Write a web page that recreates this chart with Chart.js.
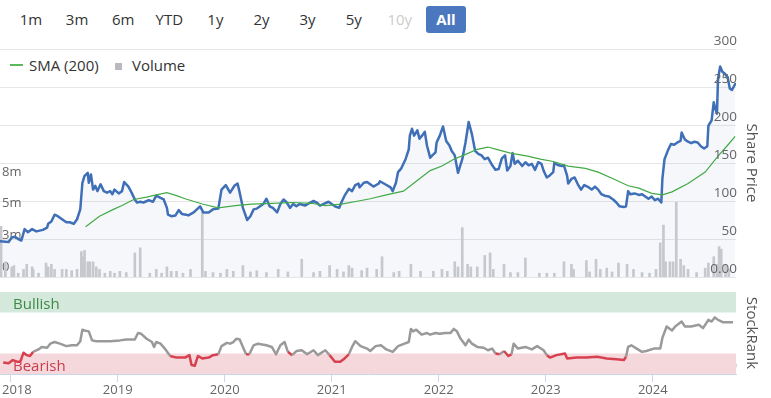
<!DOCTYPE html>
<html>
<head>
<meta charset="utf-8">
<script src="https://cdn.jsdelivr.net/npm/chart.js@4.4.1/dist/chart.umd.min.js"></script>
<style>
  body { margin: 0; width: 771px; height: 398px; background: #fff; position: relative; overflow: hidden;
         font-family: "Open Sans", sans-serif; }
  .btn { position: absolute; top: 6px; width: 40px; height: 27px; line-height: 27px; text-align: center;
         font-size: 15px; color: #333; border-radius: 3px; }
  .btn.off { color: #ccc; }
  .btn.on { background: #4a77bd; color: #fff; font-weight: bold; }
  .leg { position: absolute; top: 55px; height: 20px; line-height: 20px; font-size: 15px; color: #333; }
  canvas { position: absolute; left: 0; }
</style>
</head>
<body>
<div id="ranges"></div>
<div style="position:absolute;left:10px;top:64px;width:13px;height:2px;background:#5cb85c"></div>
<div class="leg" style="left:29px">SMA (200)</div>
<div style="position:absolute;left:115px;top:63px;width:7px;height:7px;background:#b9bac0"></div>
<div class="leg" style="left:132px">Volume</div>
<canvas id="main" width="771" height="280" style="top:0"></canvas>
<canvas id="rank" width="771" height="118" style="top:280px"></canvas>
<script>
const rangeLabels = ['1m', '3m', '6m', 'YTD', '1y', '2y', '3y', '5y', '10y', 'All'];
const yearTicks = [2018, 2019, 2020, 2021, 2022, 2023, 2024];
const xMin = 2017.9, xMax = 2024.778;

const priceDates = [2017.90,2017.98,2018.01,2018.04,2018.07,2018.10,2018.13,2018.16,2018.20,2018.24,2018.30,2018.34,2018.35,2018.38,2018.41,2018.44,2018.49,2018.52,2018.55,2018.59,2018.62,2018.65,2018.67,2018.69,2018.72,2018.73,2018.75,2018.77,2018.79,2018.81,2018.84,2018.87,2018.90,2018.93,2018.95,2018.97,2019.01,2019.04,2019.06,2019.10,2019.13,2019.16,2019.18,2019.21,2019.24,2019.29,2019.33,2019.36,2019.40,2019.43,2019.46,2019.47,2019.50,2019.54,2019.57,2019.60,2019.64,2019.66,2019.71,2019.77,2019.80,2019.85,2019.89,2019.94,2019.97,2020.01,2020.05,2020.09,2020.12,2020.14,2020.17,2020.21,2020.24,2020.27,2020.30,2020.33,2020.36,2020.39,2020.42,2020.45,2020.49,2020.52,2020.55,2020.58,2020.61,2020.64,2020.67,2020.70,2020.75,2020.80,2020.83,2020.86,2020.89,2020.92,2020.97,2021.00,2021.03,2021.07,2021.09,2021.12,2021.16,2021.19,2021.22,2021.25,2021.26,2021.30,2021.33,2021.36,2021.39,2021.44,2021.45,2021.50,2021.55,2021.57,2021.60,2021.62,2021.65,2021.69,2021.72,2021.73,2021.75,2021.77,2021.80,2021.82,2021.85,2021.87,2021.89,2021.92,2021.94,2021.97,2021.98,2022.01,2022.04,2022.07,2022.10,2022.12,2022.15,2022.18,2022.22,2022.25,2022.28,2022.31,2022.34,2022.37,2022.40,2022.43,2022.46,2022.50,2022.53,2022.56,2022.59,2022.62,2022.64,2022.67,2022.69,2022.71,2022.74,2022.78,2022.81,2022.84,2022.87,2022.90,2022.93,2022.96,2022.98,2023.01,2023.04,2023.07,2023.08,2023.12,2023.15,2023.17,2023.20,2023.21,2023.24,2023.27,2023.30,2023.33,2023.36,2023.39,2023.43,2023.46,2023.49,2023.52,2023.55,2023.59,2023.63,2023.66,2023.69,2023.73,2023.75,2023.77,2023.79,2023.83,2023.87,2023.90,2023.93,2023.96,2023.99,2024.02,2024.05,2024.08,2024.09,2024.11,2024.14,2024.17,2024.20,2024.23,2024.26,2024.27,2024.30,2024.33,2024.36,2024.39,2024.42,2024.45,2024.48,2024.51,2024.52,2024.55,2024.57,2024.58,2024.60,2024.61,2024.63,2024.65,2024.67,2024.70,2024.72,2024.74,2024.77];
const priceValues = [47,46,52,53,50,48,63,59,63,60,62,65,70,73,82,80,75,72,72,70,76,89,124,133,137,124,135,115,120,113,122,113,111,113,109,115,110,113,125,119,111,102,98,99,98,101,99,107,104,102,91,82,80,81,88,83,82,81,85,93,85,85,89,90,115,121,111,120,123,111,91,75,80,89,90,93,96,103,93,91,85,96,102,98,91,96,93,96,94,98,100,98,94,96,99,96,93,91,98,107,116,113,121,123,118,124,125,122,119,123,126,122,118,113,124,138,143,155,168,186,195,186,193,182,187,191,173,157,160,164,177,186,198,179,173,166,160,137,155,177,204,188,166,162,160,155,157,147,141,142,156,160,140,146,163,149,153,146,151,147,149,141,151,149,140,131,134,138,150,147,146,147,133,123,129,131,122,115,121,119,115,119,115,109,107,106,102,98,93,92,93,113,109,110,108,109,106,103,106,101,103,98,129,155,166,175,174,177,179,190,181,178,176,178,177,172,169,172,199,206,230,224,215,261,277,270,268,263,248,246,254];

const smaDates = [2018.70,2018.83,2018.96,2019.04,2019.15,2019.27,2019.36,2019.46,2019.55,2019.63,2019.79,2019.94,2020.10,2020.25,2020.44,2020.63,2020.81,2020.94,2021.09,2021.25,2021.36,2021.51,2021.67,2021.79,2021.92,2022.03,2022.14,2022.23,2022.36,2022.46,2022.54,2022.67,2022.83,2022.95,2023.07,2023.21,2023.37,2023.49,2023.65,2023.77,2023.87,2023.99,2024.09,2024.18,2024.33,2024.49,2024.61,2024.71,2024.77];
const smaValues = [66,80,89,94,102,105,108,111,107,103,96,91,94,96,97,98,97,94,96,100,103,108,113,126,140,146,155,160,168,171,168,163,159,155,152,146,143,138,128,120,117,110,108,112,123,138,159,175,185];

// volume in millions
const volumeDates = [2017.91,2017.95,2018.01,2018.03,2018.07,2018.12,2018.15,2018.20,2018.21,2018.26,2018.33,2018.35,2018.38,2018.41,2018.48,2018.52,2018.57,2018.62,2018.66,2018.68,2018.69,2018.72,2018.74,2018.77,2018.80,2018.83,2018.88,2018.93,2018.97,2019.02,2019.08,2019.16,2019.21,2019.30,2019.36,2019.41,2019.46,2019.50,2019.55,2019.61,2019.68,2019.79,2019.82,2019.89,2019.96,2020.02,2020.08,2020.17,2020.24,2020.30,2020.39,2020.50,2020.59,2020.72,2020.83,2020.89,2020.98,2021.05,2021.11,2021.16,2021.19,2021.28,2021.33,2021.42,2021.47,2021.58,2021.63,2021.74,2021.83,2021.95,2022.03,2022.08,2022.15,2022.18,2022.22,2022.27,2022.30,2022.36,2022.43,2022.48,2022.51,2022.61,2022.67,2022.74,2022.81,2022.94,2023.01,2023.08,2023.17,2023.24,2023.26,2023.38,2023.41,2023.47,2023.51,2023.57,2023.62,2023.68,2023.76,2023.82,2023.90,2023.97,2024.03,2024.07,2024.10,2024.12,2024.16,2024.19,2024.22,2024.26,2024.29,2024.33,2024.41,2024.49,2024.52,2024.57,2024.60,2024.62,2024.64,2024.68,2024.71];
const volumeValues = [4.0,1.2,0.8,0.9,0.3,0.6,1.0,0.8,0.6,0.3,1.1,0.8,1.0,0.6,0.6,0.6,0.5,0.6,2.0,1.6,2.1,1.2,1.2,1.2,0.8,0.6,0.3,0.45,0.3,0.45,0.35,1.9,2.3,0.3,0.6,0.3,0.8,0.45,0.45,0.3,0.6,5.1,0.45,0.35,0.3,0.6,0.45,0.9,0.4,0.5,0.35,0.6,0.4,1.4,0.35,0.45,0.9,0.6,0.4,0.9,0.7,0.5,0.7,0.6,1.6,0.35,0.45,1.0,0.45,0.45,0.6,0.45,1.2,0.8,3.9,1.0,0.8,0.8,1.7,1.9,0.6,1.0,0.35,0.35,1.5,0.3,0.3,0.3,1.2,1.0,0.6,1.3,0.4,1.4,0.6,0.7,0.4,1.1,1.0,0.6,0.35,0.3,0.6,2.7,4.1,1.2,1.2,1.2,5.9,1.4,0.9,0.6,0.35,0.7,1.1,1.6,1.0,2.4,2.2,1.0,0.6];

const rankDates = [2017.93,2017.98,2018.02,2018.06,2018.09,2018.12,2018.15,2018.18,2018.21,2018.26,2018.29,2018.34,2018.37,2018.41,2018.46,2018.52,2018.57,2018.62,2018.65,2018.67,2018.69,2018.73,2018.76,2018.80,2018.93,2019.02,2019.08,2019.16,2019.19,2019.22,2019.27,2019.32,2019.34,2019.36,2019.40,2019.44,2019.49,2019.55,2019.63,2019.67,2019.69,2019.72,2019.75,2019.79,2019.85,2019.89,2019.94,2019.97,2020.02,2020.05,2020.08,2020.11,2020.14,2020.17,2020.20,2020.23,2020.27,2020.31,2020.39,2020.44,2020.48,2020.52,2020.56,2020.59,2020.63,2020.67,2020.72,2020.77,2020.83,2020.87,2020.94,2020.98,2021.03,2021.08,2021.12,2021.16,2021.19,2021.22,2021.27,2021.33,2021.36,2021.41,2021.46,2021.51,2021.57,2021.62,2021.68,2021.72,2021.74,2021.76,2021.79,2021.84,2021.89,2021.92,2021.97,2022.01,2022.06,2022.11,2022.14,2022.17,2022.20,2022.25,2022.28,2022.31,2022.36,2022.42,2022.46,2022.50,2022.53,2022.57,2022.61,2022.65,2022.68,2022.70,2022.74,2022.81,2022.87,2022.92,2022.98,2023.01,2023.04,2023.10,2023.18,2023.20,2023.29,2023.38,2023.48,2023.57,2023.66,2023.73,2023.75,2023.77,2023.80,2023.85,2023.90,2023.94,2024.01,2024.07,2024.09,2024.13,2024.18,2024.21,2024.27,2024.30,2024.36,2024.43,2024.47,2024.52,2024.55,2024.58,2024.61,2024.66,2024.71,2024.75];
const rankValues = [14,13,17,15,15,26,23,22,27,30,33,32,37,39,37,34,35,35,40,54,53,52,41,40,40,41,42,42,50,49,43,39,33,39,37,31,22,20,20,23,11,10,22,19,20,23,24,34,38,37,39,43,42,33,24,24,35,37,35,33,24,35,39,27,23,28,29,24,29,23,29,23,15,15,19,24,33,40,34,31,28,34,35,30,27,34,37,39,55,52,54,48,50,48,50,49,50,50,55,52,44,35,42,37,33,32,29,31,25,24,28,22,24,37,31,33,30,34,29,23,20,23,25,19,20,20,21,19,18,17,21,33,35,31,27,28,31,31,44,58,53,58,64,58,58,60,56,66,64,69,66,63,63,63];

const bullishBand = [75, 100];
const bearishBand = [0, 25];

Chart.defaults.font.family = '"Open Sans", sans-serif';
Chart.defaults.color = '#666';

const ranges = document.getElementById('ranges');
rangeLabels.forEach((t, i) => {
    const b = document.createElement('div');
    b.className = 'btn' + (t === '10y' ? ' off' : '') + (t === 'All' ? ' on' : '');
    b.style.left = (31 + i * 46.1 - 20) + 'px';
    b.textContent = t;
    ranges.appendChild(b);
});

const toPoints = (xs, ys) => xs.map((x, i) => ({ x, y: ys[i] }));

new Chart(document.getElementById('main'), {
    type: 'line',
    data: {
        datasets: [
            {
                label: 'SMA (200)',
                data: toPoints(smaDates, smaValues),
                yAxisID: 'price',
                borderColor: '#43aa47',
                borderWidth: 1.2,
                pointRadius: 0,
                fill: false,
                order: 0
            },
            {
                label: 'Share Price',
                data: toPoints(priceDates, priceValues),
                yAxisID: 'price',
                borderColor: '#3e6fb7',
                borderWidth: 2.5,
                borderJoinStyle: 'round',
                borderCapStyle: 'round',
                pointRadius: 0,
                fill: 'origin',
                backgroundColor: 'rgba(70,110,190,0.055)',
                order: 1
            },
            {
                type: 'bar',
                label: 'Volume',
                data: toPoints(volumeDates, volumeValues),
                yAxisID: 'volume',
                backgroundColor: '#c6c8ce',
                barThickness: 2,
                order: 2
            }
        ]
    },
    options: {
        responsive: false,
        animation: false,
        layout: { padding: { top: 49, bottom: 3, left: 0, right: 0 } },
        plugins: {
            legend: { display: false },
            tooltip: { enabled: false },
            filler: { drawTime: 'beforeDatasetsDraw' }
        },
        scales: {
            x: { type: 'linear', min: xMin, max: xMax, display: false, offset: false },
            volume: {
                position: 'left', min: 0, max: 18,
                ticks: {
                    stepSize: 2.5, mirror: true, padding: 2, labelOffset: -10,
                    font: { size: 13 },
                    callback: v => v > 7.5 ? null : (v === 0 ? '0' : Math.round(v) + 'm')
                },
                grid: { display: false },
                border: { display: false },
                afterFit(s) { s.width = 0; s.paddingTop = 0; s.paddingBottom = 0; }
            },
            price: {
                position: 'right', min: 0, max: 300,
                ticks: {
                    stepSize: 50, mirror: true, padding: 1, labelOffset: -8, z: 1,
                    font: { size: 13.5 },
                    callback: v => v === 0 ? '0.00' : String(v)
                },
                grid: { color: '#e6e6e6', drawTicks: false },
                border: { display: false },
                title: { display: true, text: 'Share Price', color: '#555', font: { size: 15 }, padding: { top: 11, bottom: 0 } },
                afterFit(s) { s.width = 35; s.paddingTop = 0; s.paddingBottom = 0; }
            }
        }
    }
});

const bands = {
    id: 'bands',
    beforeDatasetsDraw(chart) {
        const { ctx, chartArea: a, scales: { y } } = chart;
        ctx.save();
        const drawBand = (band, fill, text, color) => {
            const top = y.getPixelForValue(band[1]);
            const bottom = y.getPixelForValue(band[0]);
            ctx.fillStyle = fill;
            ctx.fillRect(a.left, top, a.right - a.left, bottom - top);
            ctx.fillStyle = color;
            ctx.font = '15px "Open Sans"';
            ctx.textBaseline = 'middle';
            ctx.fillText(text, a.left + 13, (top + bottom) / 2 + 2.5);
        };
        drawBand(bullishBand, '#d4e9dc', 'Bullish', '#3a8a45');
        drawBand(bearishBand, '#f5d8db', 'Bearish', '#c93d4f');
        ctx.restore();
    }
};

const yearLabels = {
    id: 'yearLabels',
    afterDraw(chart) {
        const { ctx, scales: { x } } = chart;
        ctx.save();
        ctx.font = '13px "Open Sans"';
        ctx.fillStyle = '#666';
        ctx.textAlign = 'center';
        ctx.textBaseline = 'middle';
        yearTicks.forEach(v => {
            const label = String(v);
            const w = ctx.measureText(label).width;
            const px = Math.max(x.getPixelForValue(v), w / 2 + 2);
            ctx.fillText(label, px, x.top + 16);
        });
        ctx.restore();
    }
};

new Chart(document.getElementById('rank'), {
    type: 'line',
    data: {
        datasets: [{
            label: 'StockRank',
            data: toPoints(rankDates, rankValues),
            borderColor: '#9a9a9a',
            borderWidth: 2.5,
            borderJoinStyle: 'round',
            pointRadius: 0,
            fill: false,
            segment: {
                borderColor: c => (c.p0.parsed.y + c.p1.parsed.y) / 2 < 25.5 ? '#d7414f' : '#9a9a9a'
            }
        }]
    },
    options: {
        responsive: false,
        animation: false,
        layout: { padding: { top: 12, bottom: 0, left: 0, right: 0 } },
        plugins: { legend: { display: false }, tooltip: { enabled: false } },
        scales: {
            x: {
                type: 'linear', min: xMin, max: xMax, offset: false,
                afterBuildTicks(s) { s.ticks = yearTicks.map(v => ({ value: v })); },
                ticks: { display: false },
                grid: { drawOnChartArea: false, drawTicks: true, tickLength: 8, color: '#ccd6eb' },
                border: { color: '#ccd6eb' },
                afterFit(s) { s.height = 24; s.paddingLeft = 0; s.paddingRight = 0; }
            },
            y: {
                position: 'right', min: 0, max: 100,
                afterBuildTicks(s) { s.ticks = [{ value: 0 }, { value: 100 }]; },
                ticks: {
                    mirror: true, padding: 1, labelOffset: -8, font: { size: 13.5 },
                    callback: v => v === 0 ? '0' : null
                },
                grid: { drawTicks: false, color: c => c.tick && c.tick.value === 100 ? '#e6e6e6' : 'rgba(0,0,0,0)' },
                border: { display: false },
                title: { display: true, text: 'StockRank', color: '#555', font: { size: 15 }, padding: { top: 11, bottom: 0 } },
                afterFit(s) { s.width = 35; s.paddingTop = 0; s.paddingBottom = 0; }
            }
        }
    },
    plugins: [bands, yearLabels]
});
</script>
</body>
</html>
